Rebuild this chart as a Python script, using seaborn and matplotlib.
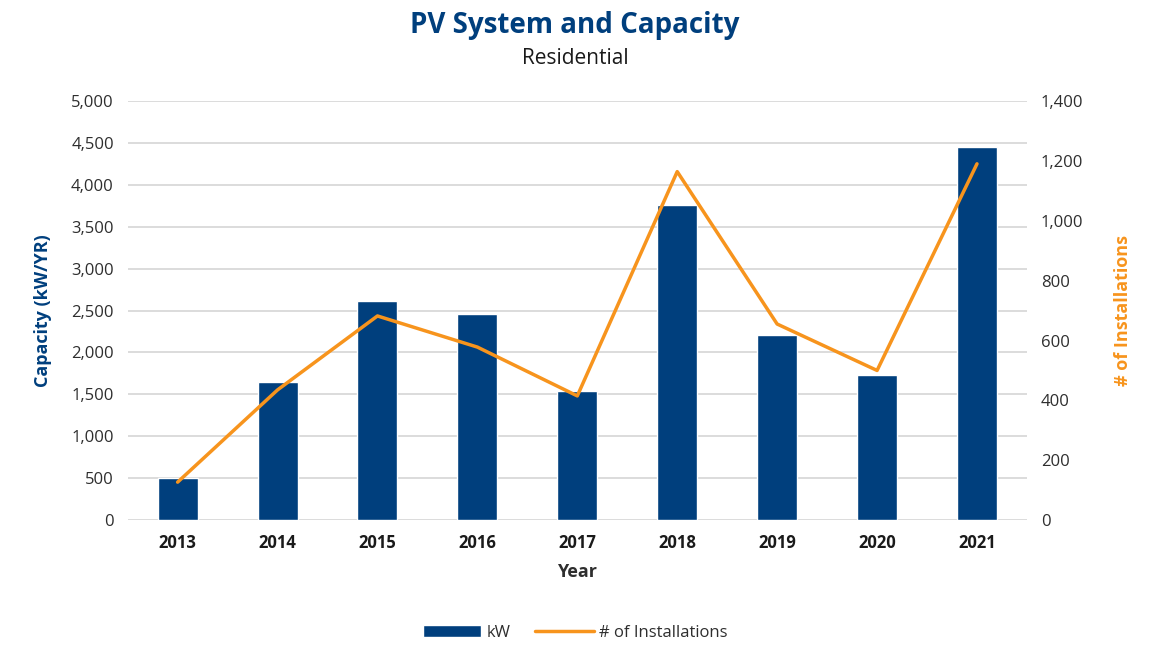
import pandas as pd
import seaborn as sns
import matplotlib.pyplot as plt
from matplotlib.patches import Patch
from matplotlib.lines import Line2D

years = ["2013", "2014", "2015", "2016", "2017", "2018", "2019", "2020", "2021"]
capacity_kw = [500, 1650, 2615, 2455, 1545, 3755, 2210, 1730, 4445]
installations = [127, 435, 682, 578, 415, 1164, 655, 500, 1190]

NAVY = "#003F7D"
ORANGE = "#F7941D"
GRAY = "#2E2E2E"

sns.set_theme(style="white")
plt.rcParams["font.family"] = ["Open Sans", "DejaVu Sans"]

df = pd.DataFrame({"Year": years, "kW": capacity_kw,
                   "pos": range(len(years)), "inst": installations})

fig = plt.figure(figsize=(11.5, 6.47), dpi=100)
ax = fig.add_axes([0.111, 0.196, 0.782, 0.648])

sns.barplot(data=df, x="Year", y="kW", color=NAVY, width=0.4,
            saturation=1, ax=ax, zorder=3)
ax.set_xlim(-0.5, len(years) - 0.5)
ax.set_ylim(0, 5000)
ax.set_yticks(range(0, 5001, 500))
ax.set_yticklabels([f"{v:,}" for v in range(0, 5001, 500)], fontsize=12, color=GRAY)
ax.yaxis.grid(True, color="#D9D9D9", linewidth=1.3, zorder=0)
ax.set_axisbelow(True)
for s in ax.spines.values():
    s.set_visible(False)
ax.tick_params(axis="both", length=0, pad=10)
for lbl in ax.get_xticklabels():
    lbl.set_fontweight("bold")
    lbl.set_fontsize(12)
    lbl.set_color("#1A1A1A")
ax.set_xlabel("Year", fontsize=13, fontweight="bold", color=GRAY, labelpad=8)
ax.set_ylabel("Capacity (kW/YR)", fontsize=13, fontweight="bold", color=NAVY, labelpad=14)

ax2 = ax.twinx()
sns.lineplot(data=df, x="pos", y="inst", color=ORANGE, linewidth=2.5, ax=ax2)
ax2.set_ylim(0, 1400)
ax2.set_yticks(range(0, 1401, 200))
ax2.set_yticklabels([f"{v:,}" for v in range(0, 1401, 200)], fontsize=12, color=GRAY)
for s in ax2.spines.values():
    s.set_visible(False)
ax2.tick_params(axis="y", length=0, pad=10)
ax2.set_ylabel("# of Installations", fontsize=13, fontweight="bold", color=ORANGE, labelpad=22)
ax2.set_xlabel("")
ax2.set_xlim(-0.5, len(years) - 0.5)

fig.text(0.5, 0.96, "PV System and Capacity", ha="center", va="center",
         fontsize=20, fontweight="bold", color=NAVY)
fig.text(0.5, 0.91, "Residential", ha="center", va="center", fontsize=15, color="#1A1A1A")

handles = [Patch(facecolor=NAVY, label="kW"),
           Line2D([0], [0], color=ORANGE, linewidth=2.5, label="# of Installations")]
fig.legend(handles=handles, loc="center", bbox_to_anchor=(0.5, 0.022), ncol=2,
           frameon=False, fontsize=12, handlelength=3.5, handletextpad=0.3,
           columnspacing=1.5, labelcolor=GRAY)

fig.savefig("out.png", dpi=100)
